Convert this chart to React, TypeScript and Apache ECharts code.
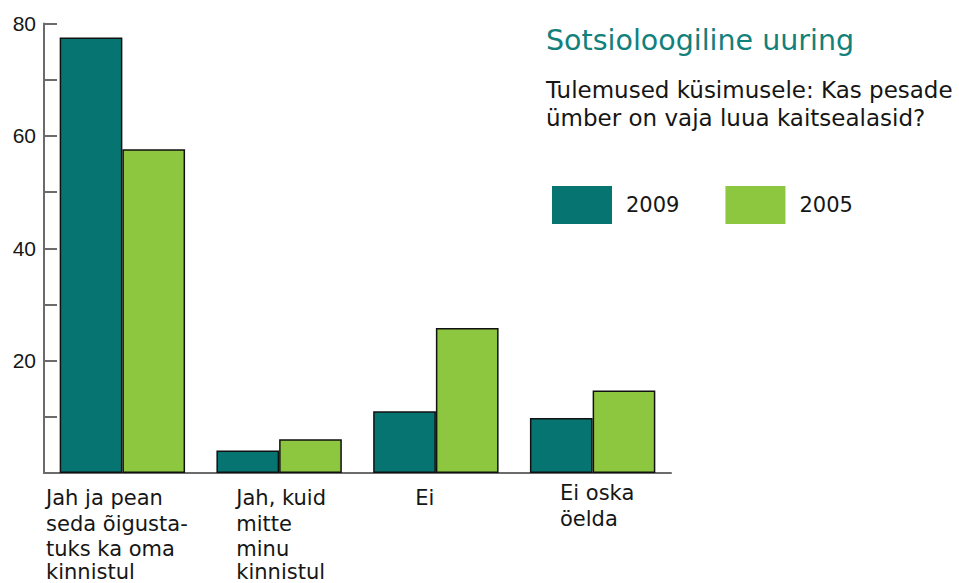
import React, { useEffect, useRef } from 'react';
import * as echarts from 'echarts';

const categories = [
  'Jah ja pean\nseda õigusta-\ntuks ka oma\nkinnistul',
  'Jah, kuid\nmitte\nminu\nkinnistul',
  'Ei',
  'Ei oska\nöelda',
];
const values2009 = [77.5, 4, 11, 9.8];
const values2005 = [57.6, 6, 25.8, 14.7];
const yTickLabels = [20, 40, 60, 80];
const seriesNames = ['2009', '2005'];
const titleText = 'Sotsioloogiline uuring';
const subtitleText = 'Tulemused küsimusele: Kas pesade\nümber on vaja luua kaitsealasid?';

const TEAL = '#067572';
const GREEN = '#8dc63f';
const TITLE = '#12807b';
const INK = '#161616';
const AXIS = '#6b6b6b';
const FONT = '"Liberation Sans", Arial, sans-serif';
const WFONT = '"DejaVu Sans", sans-serif';

// per-label nudges [top, right, bottom, left]
const labelPads = [
  [6, 11, 0, 0],
  [6, 0, 0, 4],
  [6, 22, 0, 0],
  [1, 0, 0, 9],
];

export default function App() {
  const ref = useRef<HTMLDivElement>(null);
  useEffect(() => {
    if (!ref.current) return;
    const chart = echarts.init(ref.current, null, { renderer: 'svg' });
    const catData = categories.map((c, i) => ({
      value: c,
      textStyle: { padding: labelPads[i] },
    }));
    chart.setOption({
      animation: false,
      backgroundColor: '#ffffff',
      title: [
        {
          text: titleText,
          left: 546,
          top: 26,
          padding: 0,
          textStyle: { fontFamily: WFONT, fontSize: 28.5, fontWeight: 'normal', color: TITLE },
        },
        {
          text: subtitleText,
          left: 546,
          top: 76,
          padding: 0,
          textStyle: { fontFamily: WFONT, fontSize: 23, fontWeight: 'normal', color: INK, lineHeight: 28 },
        },
      ],
      legend: {
        left: 552,
        top: 186,
        padding: 0,
        itemWidth: 60,
        itemHeight: 38,
        itemGap: 46,
        icon: 'rect',
        data: seriesNames,
        itemStyle: { borderWidth: 0 },
        textStyle: { fontFamily: WFONT, fontSize: 21, color: INK, padding: [5, 0, 0, 9] },
      },
      grid: {
        left: 44,
        right: 288,
        top: 23.5,
        height: 449.5,
        containLabel: false,
        outerBoundsMode: 'none',
      },
      xAxis: {
        type: 'category',
        data: catData,
        boundaryGap: true,
        axisLine: { lineStyle: { color: AXIS, width: 2 } },
        axisTick: { inside: true, length: 12, lineStyle: { color: AXIS, width: 2 } },
        axisLabel: {
          interval: 0,
          margin: 6,
          align: 'center',
          verticalAlign: 'top',
          formatter: (v: string) => {
            const lines = v.split('\n');
            return lines
              .map((l, i) => (lines.length >= 4 && i === lines.length - 1 ? `{b|${l}}` : `{a|${l}}`))
              .join('\n');
          },
          rich: {
            a: { fontFamily: WFONT, fontSize: 21, lineHeight: 25.7, color: INK, align: 'left' },
            b: { fontFamily: WFONT, fontSize: 21, lineHeight: 20.5, color: INK, align: 'left' },
          },
        },
      },
      yAxis: {
        type: 'value',
        min: 0,
        max: 80,
        interval: 10,
        splitLine: { show: false },
        axisLine: { show: true, lineStyle: { color: AXIS, width: 2 } },
        axisTick: { show: true, inside: true, length: 13, lineStyle: { color: AXIS, width: 2 } },
        axisLabel: {
          margin: 8,
          fontFamily: FONT,
          fontSize: 21,
          color: INK,
          formatter: (v: number) => (yTickLabels.includes(v) ? String(v) : ''),
        },
      },
      series: [
        {
          name: seriesNames[0],
          type: 'bar',
          data: values2009,
          barGap: '0%',
          barCategoryGap: '20%',
          itemStyle: { color: TEAL, borderColor: '#111', borderWidth: 1.5 },
        },
        {
          name: seriesNames[1],
          type: 'bar',
          data: values2005,
          barGap: '0%',
          barCategoryGap: '20%',
          itemStyle: { color: GREEN, borderColor: '#111', borderWidth: 1.5 },
        },
      ],
    });
    return () => chart.dispose();
  }, []);
  return (
    <div
      ref={ref}
      style={{ position: 'fixed', left: 0, top: 0, width: 959, height: 583, background: '#fff' }}
    />
  );
}
